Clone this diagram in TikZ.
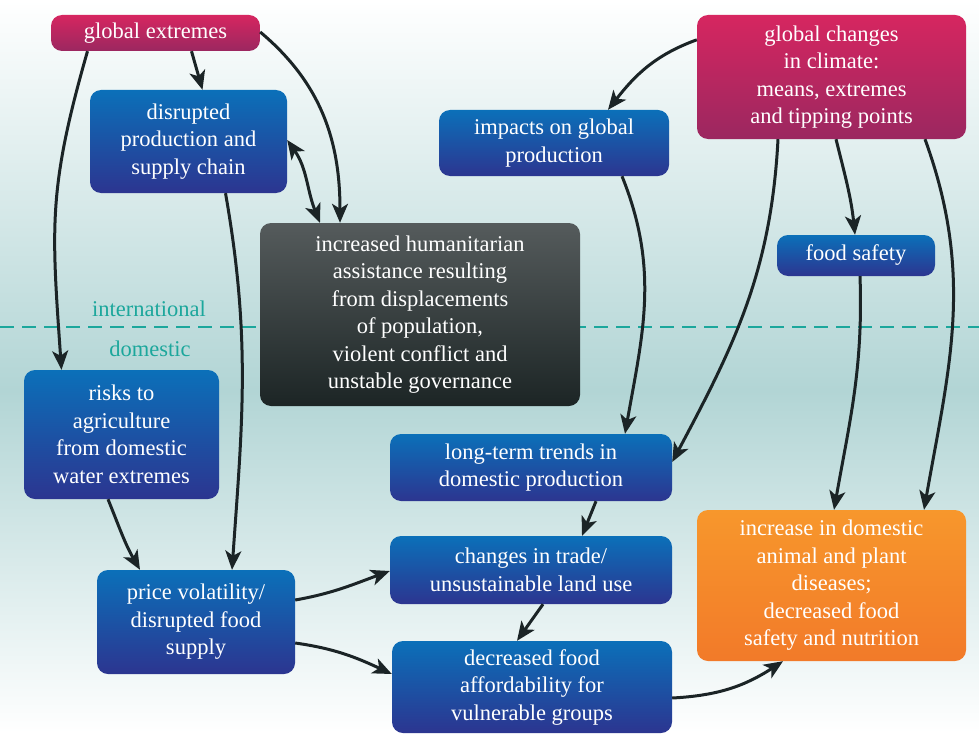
\documentclass[tikz,border=0pt]{standalone}
\usepackage{fontspec}
\setmainfont{Liberation Serif}
\usetikzlibrary{arrows.meta}
\definecolor{climatered}{HTML}{D62660}
\definecolor{climatedark}{HTML}{9B2760}
\definecolor{boxblue}{HTML}{0B70B9}
\definecolor{boxnavy}{HTML}{2C3590}
\definecolor{humgrey}{HTML}{555B5C}
\definecolor{humdark}{HTML}{1C2525}
\definecolor{foodorange}{HTML}{F7972C}
\definecolor{foodorangedark}{HTML}{F27A29}
\definecolor{bgteal}{HTML}{B2D5D5}
\definecolor{divteal}{HTML}{1CA79C}
\definecolor{arrowblack}{HTML}{1B2426}

\begin{document}
\begin{tikzpicture}[x=1pt, y=1pt,
  box/.style={rectangle, rounded corners=11pt, inner sep=0pt, align=center, text=white, font=\fontsize{22.5}{27.5}\selectfont},
  redbox/.style={box, top color=climatered, bottom color=climatedark},
  bluebox/.style={box, top color=boxblue, bottom color=boxnavy},
  darkbox/.style={box, top color=humgrey, bottom color=humdark},
  orangebox/.style={box, top color=foodorange, bottom color=foodorangedark},
  link/.style={-{Stealth[length=19pt,width=16pt,inset=5pt]}, line width=3pt, draw=arrowblack},
  scopelabel/.style={font=\fontsize{22.5}{27.5}\selectfont, text=divteal}]
\useasboundingbox (0,0) rectangle (979,-733);

% Background and the international/domestic divide
\fill[top color=white, bottom color=bgteal] (0,0) rectangle (979,-390);
\fill[top color=bgteal, bottom color=white] (0,-390) rectangle (979,-733);
\draw[divteal, line width=2.6pt, dash pattern=on 14pt off 8pt] (0,-327) -- (979,-327);
\node[scopelabel] (intl) at (149,-309) {international};
\node[scopelabel] (dom) at (150,-349) {domestic};

% Drivers
\node[redbox, minimum width=209pt, minimum height=36pt] (globext) at (155.5,-33) {global extremes};
\node[redbox, minimum width=269pt, minimum height=124pt] (globclim) at (831.5,-77) {global changes\\in climate:\\means, extremes\\and tipping points};

% International effects
\node[bluebox, minimum width=197pt, minimum height=103pt] (disprod) at (188.5,-141.5) {disrupted\\production and\\supply chain};
\node[bluebox, minimum width=230pt, minimum height=66pt] (globprod) at (554,-143) {impacts on global\\production};
\node[bluebox, minimum width=158pt, minimum height=41pt] (foodsafe) at (856,-255.5) {food safety};
\node[darkbox, minimum width=320pt, minimum height=183pt] (humaid) at (420,-314.5) {increased humanitarian\\assistance resulting\\from displacements\\of population,\\violent conflict and\\unstable governance};

% Domestic effects
\node[bluebox, minimum width=195pt, minimum height=129pt] (watrisk) at (121.5,-434.5) {risks to\\agriculture\\from domestic\\water extremes};
\node[bluebox, minimum width=282pt, minimum height=67pt] (domprod) at (531,-467.5) {long-term trends in\\domestic production};
\node[bluebox, minimum width=282pt, minimum height=68pt] (trade) at (531,-570) {changes in trade/\\unsustainable land use};
\node[bluebox, minimum width=198pt, minimum height=104pt] (price) at (196,-622) {price volatility/\\disrupted food\\supply};
\node[bluebox, minimum width=280pt, minimum height=92pt] (afford) at (532,-687) {decreased food\\affordability for\\vulnerable groups};
\node[orangebox, minimum width=269pt, minimum height=151pt] (disease) at (831.5,-585.5) {increase in domestic\\animal and plant\\diseases;\\decreased food\\safety and nutrition};

% Connectors
\draw[link] ([xshift=-68pt]globext.south) to[out=-106, in=94, looseness=1.15] ([xshift=-60pt]watrisk.north);
\draw[link] ([xshift=36pt]globext.south) -- ([xshift=14pt]disprod.north);
\draw[link] ([yshift=1pt]globext.east) to[out=-40, in=90] ([xshift=-80pt]humaid.north);
\draw[{Stealth[length=19pt,width=16pt,inset=5pt]}-{Stealth[length=19pt,width=16pt,inset=5pt]}, line width=3pt, draw=arrowblack] ([yshift=1.5pt]disprod.east) to[out=-55, in=112] ([xshift=-100pt]humaid.north);
\draw[link] ([xshift=37pt]disprod.south) to[out=-80, in=86] ([xshift=36pt]price.north);
\draw[link] ([yshift=-25pt]globclim.north west) to[out=200, in=52] ([xshift=54pt]globprod.north);
\draw[link] ([xshift=68pt]globprod.south) to[out=-68, in=80] ([xshift=94pt]domprod.north);
\draw[link] ([xshift=-53.5pt]globclim.south) to[out=-93, in=62] ([yshift=5.5pt]domprod.east);
\draw[link] ([xshift=4.5pt]globclim.south) to[out=-76, in=96] ([xshift=-1pt]foodsafe.north);
\draw[link] ([xshift=4pt]foodsafe.south) to[out=-88, in=80] ([xshift=2.5pt]disease.north);
\draw[link] ([xshift=93.5pt]globclim.south) to[out=-70, in=80] ([xshift=92.5pt]disease.north);
\draw[link] ([xshift=-13.5pt]watrisk.south) to[out=-68, in=120] ([xshift=-56pt]price.north);
\draw[link] ([yshift=22pt]price.east) to[out=10, in=200] ([yshift=-1pt]trade.west);
\draw[link] ([yshift=-21pt]price.east) to[out=-8, in=155] ([yshift=13pt]afford.west);
\draw[link] ([xshift=65pt]domprod.south) -- ([xshift=51pt]trade.north);
\draw[link] ([xshift=12pt]trade.south) -- ([xshift=-15pt]afford.north);
\draw[link] ([yshift=-11pt]afford.east) to[out=3, in=213] ([xshift=-48.5pt]disease.south);
\end{tikzpicture}
\end{document}
